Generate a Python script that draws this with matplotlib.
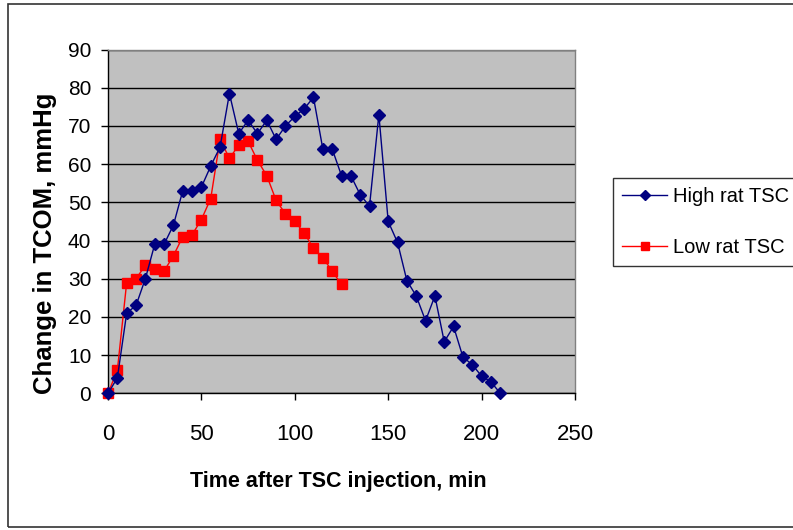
import matplotlib
matplotlib.use("Agg")
import matplotlib.pyplot as plt
from matplotlib.patches import Rectangle

time_high = [0, 5, 10, 15, 20, 25, 30, 35, 40, 45, 50, 55, 60, 65, 70, 75, 80, 85, 90, 95,
             100, 105, 110, 115, 120, 125, 130, 135, 140, 145, 150, 155, 160, 165, 170, 175,
             180, 185, 190, 195, 200, 205, 210]
high = [0, 4, 21, 23, 30, 39, 39, 44, 53, 53, 54, 59.5, 64.5, 78.5, 68, 71.5, 68, 71.5, 66.5, 70,
        72.5, 74.5, 77.5, 64, 64, 57, 57, 52, 49, 73, 45, 39.5, 29.5, 25.5, 19, 25.5,
        13.5, 17.5, 9.5, 7.5, 4.5, 3, 0]
time_low = [0, 5, 10, 15, 20, 25, 30, 35, 40, 45, 50, 55, 60, 65, 70, 75, 80, 85, 90, 95,
            100, 105, 110, 115, 120, 125]
low = [0, 6, 29, 30, 33.5, 32.5, 32, 36, 41, 41.5, 45.5, 51, 66.5, 61.5, 65, 66, 61, 57, 50.5, 47,
       45, 42, 38, 35.5, 32, 28.5]
xticks = [0, 50, 100, 150, 200, 250]
yticks = [0, 10, 20, 30, 40, 50, 60, 70, 80, 90]

fam = 'Liberation Sans'
plt.rcParams['font.family'] = [fam, 'DejaVu Sans']

W, H = 793, 530
fig = plt.figure(figsize=(W / 100, H / 100), dpi=100)
fig.patches.append(Rectangle((8 / W, 3 / H), 1.0, (H - 7) / H, transform=fig.transFigure,
                             fill=False, edgecolor='#333333', linewidth=1.2))
ax = fig.add_axes([108 / W, (H - 393.3) / H, 467 / W, 343.7 / H])
ax.set_facecolor('#C0C0C0')
ax.set_xlim(0, 250)
ax.set_ylim(0, 90)
ax.set_xticks(xticks)
ax.set_yticks(yticks)
ax.yaxis.grid(True, color='black', linewidth=1.0)
ax.set_axisbelow(True)
for s in ax.spines.values():
    s.set_color('#808080')
    s.set_linewidth(1.0)
ax.spines['left'].set_color('black')
ax.spines['bottom'].set_color('black')
ax.tick_params(direction='out', length=5, width=1, colors='black')
ax.tick_params(axis='x', labelsize=16, pad=17)
ax.tick_params(axis='y', labelsize=15, pad=7)

ax.plot(time_high, high, color='#000080', marker='D', markersize=6, linewidth=1.0,
        label='High rat TSC', clip_on=False, zorder=4)
ax.plot(time_low, low, color='#FF0000', marker='s', markersize=6.5, linewidth=1.0,
        label='Low rat TSC', clip_on=False, zorder=3)

ax.set_xlabel('Time after TSC injection, min', fontsize=15.5, fontweight='bold')
ax.xaxis.set_label_coords((338 - 108) / 467, -(471 - 393.3) / 343.7)
ax.xaxis.label.set_verticalalignment('top')
ax.set_ylabel('Change in TCOM, mmHg', fontsize=18.5, fontweight='bold')
ax.yaxis.set_label_coords((57 - 108) / 467, (393.3 - 243) / 343.7)

leg = fig.legend(loc='upper left', bbox_to_anchor=(613 / W, 1 - 178 / H),
                 frameon=True, fancybox=False, edgecolor='black',
                 prop={'size': 14.5}, labelspacing=1.6, handlelength=2.25,
                 borderpad=0.45, handletextpad=0.3, borderaxespad=0, markerscale=0.8)
leg.get_frame().set_linewidth(1.0)

fig.savefig('out.png', dpi=100)
